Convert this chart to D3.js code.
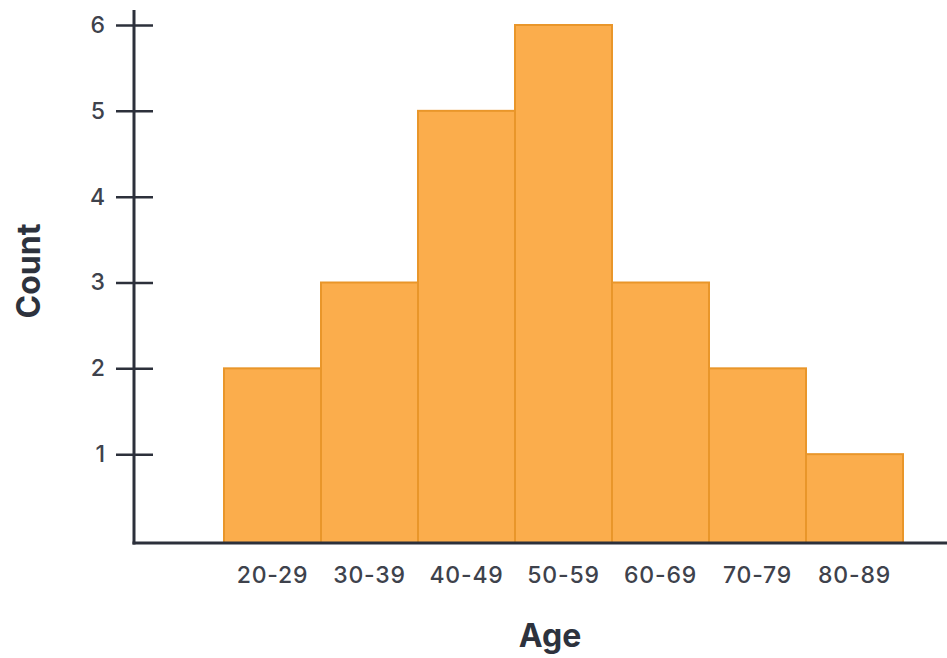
<!DOCTYPE html>
<html>
<head>
<meta charset="utf-8">
<script src="https://cdn.jsdelivr.net/npm/d3@7"></script>
<style>
  html, body { margin: 0; padding: 0; background: #fff; }
  svg { display: block; font-family: Inter, "Noto Sans", sans-serif; }
</style>
</head>
<body>
<svg id="chart" width="947" height="658"></svg>
<script>
// Age groups and their counts
const ageGroups = ["20-29", "30-39", "40-49", "50-59", "60-69", "70-79", "80-89"];
const counts = [2, 3, 5, 6, 3, 2, 1];
const yTicks = [1, 2, 3, 4, 5, 6];

const svg = d3.select("#chart");
const axisX = 134, baseY = 543;

const x = d3.scaleBand().domain(ageGroups).range([224, 903]).padding(0);
const y = d3.scaleLinear().domain([0, 6]).range([540, 25]);

// bars
svg.append("g").selectAll("rect")
  .data(ageGroups)
  .join("rect")
  .attr("x", d => x(d))
  .attr("y", (d, i) => y(counts[i]))
  .attr("width", x.bandwidth())
  .attr("height", (d, i) => baseY - y(counts[i]))
  .attr("fill", "#fbad4c")
  .attr("stroke", "#e9962a")
  .attr("stroke-width", 2);

// y axis
const yAxis = d3.axisLeft(y).tickValues(yTicks).tickFormat(d3.format("d")).tickSize(18);
const gy = svg.append("g").attr("transform", `translate(${axisX},0)`).call(yAxis);
gy.select(".domain").remove();
gy.selectAll(".tick line").attr("x2", 19).attr("x1", -18)
  .attr("stroke", "#2c303b").attr("stroke-width", 2.5);
gy.selectAll(".tick text").attr("font-size", 23).attr("font-weight", 500).attr("fill", "#3e424c")
  .attr("font-family", "Inter, sans-serif").attr("x", -29);
svg.append("line").attr("x1", axisX).attr("x2", axisX).attr("y1", 10).attr("y2", baseY + 1.5)
  .attr("stroke", "#2c303b").attr("stroke-width", 3);

// x axis
const xAxis = d3.axisBottom(x).tickSize(0).tickPadding(24);
const gx = svg.append("g").attr("transform", `translate(0,${baseY})`).call(xAxis);
gx.select(".domain").remove();
gx.selectAll(".tick text").attr("font-size", 23).attr("font-weight", 500).attr("fill", "#3e424c")
  .attr("font-family", "Inter, sans-serif").attr("letter-spacing", 0.8);
svg.append("line").attr("x1", axisX - 1.5).attr("x2", 947).attr("y1", baseY).attr("y2", baseY)
  .attr("stroke", "#2c303b").attr("stroke-width", 3);

// axis titles
svg.append("text").attr("transform", "translate(40,271) rotate(-90)")
  .attr("text-anchor", "middle").attr("font-size", 32).attr("font-weight", 700)
  .attr("fill", "#2d323d").text("Count");
svg.append("text").attr("x", 550).attr("y", 647)
  .attr("text-anchor", "middle").attr("font-size", 32).attr("font-weight", 700)
  .attr("fill", "#2d323d").text("Age");
</script>
</body>
</html>
